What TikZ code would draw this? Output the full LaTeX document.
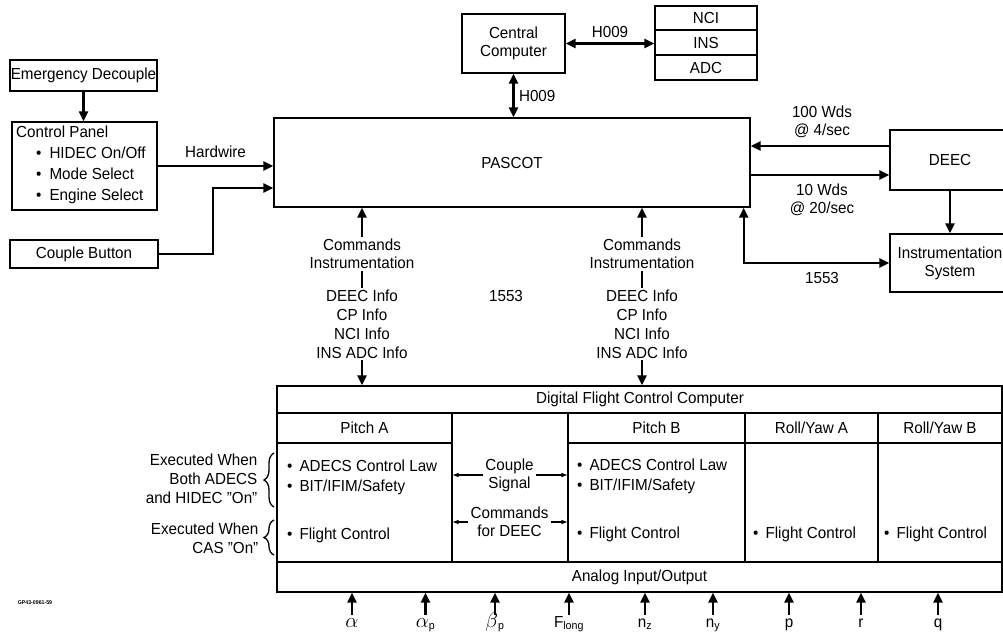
\documentclass[tikz,border=0pt]{standalone}
\usepackage{fontspec}
\setmainfont{Liberation Sans}[FakeStretch=0.95]
\usetikzlibrary{arrows.meta,decorations.pathreplacing,calc}
\newcommand{\gk}[1]{{\fontsize{22}{22}\selectfont$#1$}}
\begin{document}
\begin{tikzpicture}[x=1pt,y=-1pt,
  every node/.style={font=\fontsize{16}{18}\selectfont},
  box/.style={draw, line width=1.4pt, inner sep=0pt, align=center},
  cell/.style={draw, line width=1.4pt, inner sep=0pt, align=center},
  lbl/.style={inner sep=1.5pt, align=center},
  lst/.style={inner sep=0pt, align=left, anchor=west},
  arr/.style={line width=2.4pt, -{Triangle[length=10pt,width=9pt]}},
  darr/.style={line width=2.4pt, {Triangle[length=10pt,width=9pt]}-{Triangle[length=10pt,width=9pt]}},
  sarr/.style={line width=1.2pt, -{Triangle[length=6pt,width=4pt]}},
  brc/.style={line width=1.3pt, decorate, decoration={brace, amplitude=10pt}},
  inp/.style={inner sep=2pt, text height=10pt, text depth=3pt, anchor=base}
]
\useasboundingbox (0,0) rectangle (1003,635);

% left boxes
\node[box, minimum width=147pt, minimum height=31pt] (emerg) at (83.5,75.5) {Emergency Decouple};
\node[box, minimum width=145pt, minimum height=88pt] (cp) at (84.5,166) {};
\node[lst, anchor=north west, font=\fontsize{16}{21}\selectfont] (cptext) at (16,126)
  {Control Panel\\\hspace{20pt}\textbullet\hspace{8pt}HIDEC On/Off\\\hspace{20pt}\textbullet\hspace{8pt}Mode Select\\\hspace{20pt}\textbullet\hspace{8pt}Engine Select};
\node[box, minimum width=148pt, minimum height=28pt] (cb) at (84,254) {Couple Button};

% PASCOT and top
\node[box, minimum width=476pt, minimum height=89pt] (pascot) at (512,162.5) {PASCOT};
\node[box, minimum width=103pt, minimum height=59pt] (cc) at (513.5,43.5) {Central\\Computer};
\node[box, minimum width=102pt, minimum height=24pt] (nci) at (706,18) {NCI};
\node[box, minimum width=102pt, minimum height=25pt] (ins) at (706,42.5) {INS};
\node[box, minimum width=102pt, minimum height=25pt] (adc) at (706,67.5) {ADC};

% right boxes (they run past the right edge of the picture)
\node[box, minimum width=120pt, minimum height=60pt] (deec) at (950,160) {DEEC};
\node[box, minimum width=120pt, minimum height=58pt] (instr) at (950,263) {Instrumentation\\System};

% DFCC
\node[cell, minimum width=725pt, minimum height=206pt] (dfcc) at (639.5,489) {};
\node[lbl] (dfcct) at (640,399) {Digital Flight Control Computer};
\node[cell, minimum width=725pt, minimum height=30pt] (analog) at (639.5,577) {Analog Input/Output};
\node[cell, minimum width=175pt, minimum height=30pt] (paH) at (364.5,428) {Pitch A};
\node[cell, minimum width=175pt, minimum height=119pt] (paB) at (364.5,502.5) {};
\node[cell, minimum width=116pt, minimum height=149pt] (mid) at (510,487.5) {};
\node[cell, minimum width=177pt, minimum height=30pt] (pbH) at (656.5,428) {Pitch B};
\node[cell, minimum width=177pt, minimum height=119pt] (pbB) at (656.5,502.5) {};
\node[cell, minimum width=133pt, minimum height=30pt] (raH) at (811.5,428) {Roll/Yaw A};
\node[cell, minimum width=133pt, minimum height=119pt] (raB) at (811.5,502.5) {};
\node[cell, minimum width=124pt, minimum height=30pt] (rbH) at (940,428) {Roll/Yaw B};
\node[cell, minimum width=124pt, minimum height=119pt] (rbB) at (940,502.5) {};

\node[lst, font=\fontsize{16}{20}\selectfont] (pa1) at (287,477) {\textbullet\hspace{7pt}ADECS Control Law\\\textbullet\hspace{7pt}BIT/IFIM/Safety};
\node[lst] (pa2) at (287,535) {\textbullet\hspace{7pt}Flight Control};
\node[lst, font=\fontsize{16}{20}\selectfont] (pb1) at (577,476) {\textbullet\hspace{7pt}ADECS Control Law\\\textbullet\hspace{7pt}BIT/IFIM/Safety};
\node[lst] (pb2) at (577,534) {\textbullet\hspace{7pt}Flight Control};
\node[lst] (ra2) at (753,534) {\textbullet\hspace{7pt}Flight Control};
\node[lst] (rb2) at (884,534) {\textbullet\hspace{7pt}Flight Control};

\node[lbl, inner sep=2pt] (cs) at (509.5,475) {Couple\\Signal};
\node[lbl, inner sep=2pt] (cd) at (509.5,522) {Commands\\for DEEC};
\draw[sarr] (cs.west) -- (cs.west -| paB.east);
\draw[sarr] (cs.east) -- (cs.east -| pbB.west);
\draw[sarr] (cd.west) -- (cd.west -| paB.east);
\draw[sarr] (cd.east) -- (cd.east -| pbB.west);

% left execution notes
\node[lbl, align=right, anchor=east, font=\fontsize{16}{19}\selectfont] (ex1) at (259,479) {Executed When\\Both ADECS\\and HIDEC ''On''};
\node[lbl, align=right, anchor=east, font=\fontsize{16}{19}\selectfont] (ex2) at (260,538) {Executed When\\CAS ''On''};
\draw[brc] (274,507) -- (274,453);
\draw[brc] (274,555) -- (274,520);

% connectors
\draw[arr] (emerg.south) -- (emerg.south |- cp.north);
\draw[arr] (cp.east) -- (cp.east -| pascot.west) node[midway, above, yshift=4pt] (hw) {Hardwire};
\coordinate (cbturn) at (213,188);
\draw[arr] (cb.east) -| (cbturn) -- (cbturn -| pascot.west);
\draw[darr] (cc.south) -- (cc.south |- pascot.north) node[midway, right, xshift=1pt] (h1) {H009};
\draw[darr] (cc.east) -- (cc.east -| ins.west) node[midway, above, yshift=1pt] (h2) {H009};

\coordinate (d1) at ([yshift=14pt]deec.west);
\coordinate (d2) at ([yshift=-15pt]deec.west);
\draw[arr] (d1) -- (d1 -| pascot.east);
\draw[arr] (d2 -| pascot.east) -- (d2);
\node[lbl] (w100) at (822,122) {100 Wds\\@ 4/sec};
\node[lbl] (w10) at (822,200) {10 Wds\\@ 20/sec};
\draw[arr] (deec.south) -- (instr.north);
\coordinate (p1553) at ([xshift=-7pt]pascot.south east);
\draw[darr] (p1553) |- (instr.west);
\node[lbl] (b1553) at (822,278) {1553};
\node[lbl] (m1553) at (506,296) {1553};

% command columns
\foreach \xx/\nm in {362/L, 642/R}{
  \node[lbl] (cmd\nm) at (\xx,254) {Commands\\Instrumentation};
  \node[lbl, font=\fontsize{16}{19}\selectfont] (inf\nm) at (\xx,324) {DEEC Info\\CP Info\\NCI Info\\INS ADC Info};
  \draw[arr] (cmd\nm.north) -- (cmd\nm.north |- pascot.south);
  \draw[line width=2pt] (cmd\nm.south) -- (inf\nm.north);
  \draw[arr] (inf\nm.south) -- (inf\nm.south |- dfcc.north);
}

% analog inputs
\foreach \xx/\tx/\nm in {352/{\gk{\alpha}}/i1, 425.5/{\gk{\alpha}\textsubscript{p}}/i2, 495/{\gk{\beta}\textsubscript{p}}/i3,
  569/{F\textsubscript{long}}/i4, 645/{n\textsubscript{z}}/i5, 713/{n\textsubscript{y}}/i6,
  789/{p}/i7, 861/{r}/i8, 938/{q}/i9}{
  \node[inp] (\nm) at (\xx,627) {\tx};
  \draw[arr] (\nm.north) -- (\nm.north |- dfcc.south);
}

\node[inner sep=0pt, font=\fontsize{5.5}{6}\selectfont\bfseries] (gp) at (35,603) {GP43-0961-59};
\end{tikzpicture}
\end{document}
